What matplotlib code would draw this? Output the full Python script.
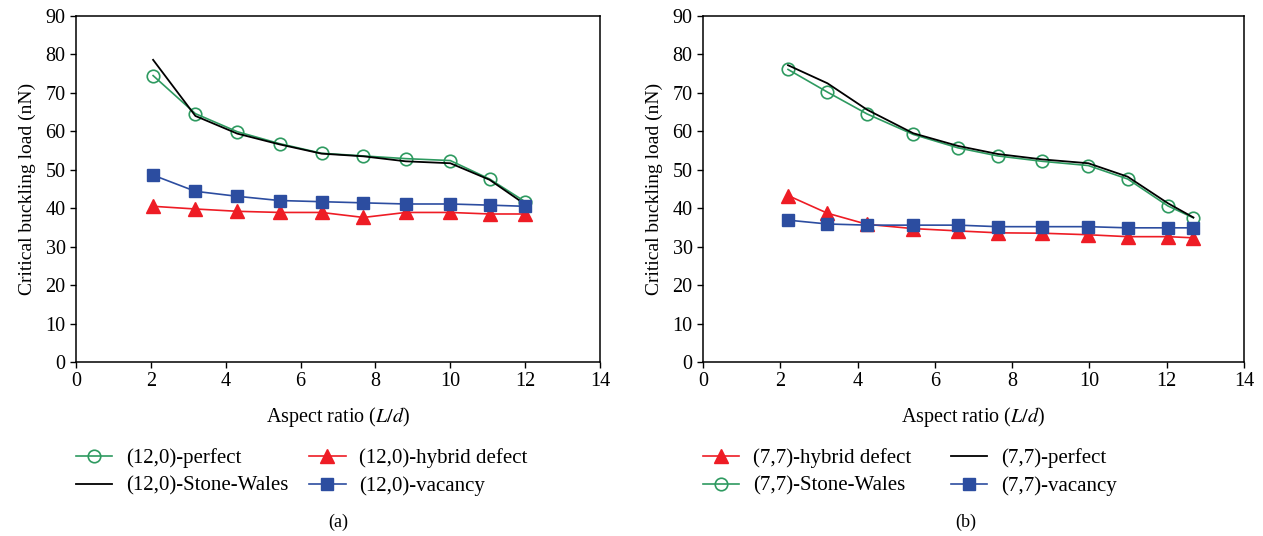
import matplotlib
matplotlib.use('Agg')
import matplotlib.pyplot as plt

plt.rcParams['font.family'] = ['Liberation Serif', 'DejaVu Serif']
plt.rcParams['mathtext.fontset'] = 'stix'

# (12,0) tube - left panel
x_a = [2.06, 3.19, 4.31, 5.44, 6.56, 7.68, 8.81, 10.0, 11.05, 12.0]
a_perfect = [74.5, 64.6, 59.9, 56.8, 54.3, 53.6, 52.9, 52.4, 47.6, 41.7]
a_stone_wales = [78.6, 64.0, 59.4, 56.6, 54.2, 53.5, 52.2, 51.7, 47.4, 41.0]
a_hybrid = [40.5, 39.8, 39.2, 38.9, 38.9, 37.6, 38.9, 38.9, 38.5, 38.5]
a_vacancy = [48.6, 44.4, 43.1, 42.0, 41.7, 41.4, 41.1, 41.1, 40.8, 40.5]

# (7,7) tube - right panel
x_b = [2.20, 3.22, 4.25, 5.44, 6.60, 7.63, 8.78, 9.97, 10.99, 12.03, 12.69]
b_perfect = [77.2, 72.5, 65.6, 59.5, 56.2, 54.1, 52.7, 51.7, 48.2, 41.3, 37.6]
b_stone_wales = [76.1, 70.2, 64.5, 59.2, 55.7, 53.6, 52.2, 51.1, 47.6, 40.6, 37.5]
b_hybrid = [43.3, 38.7, 35.8, 34.7, 34.1, 33.6, 33.5, 33.1, 32.6, 32.6, 32.3]
b_vacancy = [36.9, 35.9, 35.6, 35.6, 35.6, 35.2, 35.2, 35.2, 34.9, 34.9, 34.9]

green = '#2e9a60'
red = '#ee1c25'
blue = '#2c4da0'

W, H = 1263, 536
fig = plt.figure(figsize=(W / 100, H / 100), dpi=100)

ax1 = fig.add_axes([76 / W, 1 - 362 / H, 524 / W, 346 / H])
ax2 = fig.add_axes([703 / W, 1 - 362 / H, 541 / W, 346 / H])

circle = dict(marker='o', markersize=9, markerfacecolor='none', markeredgewidth=1.2, color=green, linewidth=1.2)
black = dict(color='black', linewidth=1.3)
tri = dict(marker='^', markersize=10, color=red, linewidth=1.2)
square = dict(marker='s', markersize=9, color=blue, linewidth=1.2)

h1 = ax1.plot(x_a, a_perfect, label='(12,0)-perfect', **circle)[0]
h2 = ax1.plot(x_a, a_stone_wales, label='(12,0)-Stone-Wales', **black)[0]
h3 = ax1.plot(x_a, a_hybrid, label='(12,0)-hybrid defect', **tri)[0]
h4 = ax1.plot(x_a, a_vacancy, label='(12,0)-vacancy', **square)[0]

g1 = ax2.plot(x_b, b_hybrid, label='(7,7)-hybrid defect', **tri)[0]
g2 = ax2.plot(x_b, b_stone_wales, label='(7,7)-Stone-Wales', **circle)[0]
g3 = ax2.plot(x_b, b_perfect, label='(7,7)-perfect', **black)[0]
g4 = ax2.plot(x_b, b_vacancy, label='(7,7)-vacancy', **square)[0]

for ax in (ax1, ax2):
    ax.set_xlim(0, 14)
    ax.set_ylim(0, 90)
    ax.set_xticks(range(0, 15, 2))
    ax.set_yticks(range(0, 91, 10))
    ax.tick_params(direction='out', length=4, width=1, labelsize=14.5, colors='black')
    for s in ax.spines.values():
        s.set_linewidth(1.1)
    ax.set_xlabel(r'Aspect ratio ($L/d$)', fontsize=14.5, labelpad=10)
    ax.set_ylabel('Critical buckling load (nN)', fontsize=14, labelpad=7)

leg_kw = dict(loc='upper left', ncol=2, frameon=False, fontsize=15, borderpad=0,
              borderaxespad=0, handlelength=1.75, handletextpad=0.65,
              labelspacing=0.4, bbox_transform=fig.transFigure)
fig.legend(handles=[h1, h2, h3, h4], bbox_to_anchor=(76 / W, 1 - 448 / H),
           columnspacing=1.0, **leg_kw)
fig.legend(handles=[g1, g2, g3, g4], bbox_to_anchor=(703 / W, 1 - 448 / H),
           columnspacing=1.9, **leg_kw)

fig.text(338 / W, 1 - 522 / H, '(a)', ha='center', va='center', fontsize=13)
fig.text(966 / W, 1 - 522 / H, '(b)', ha='center', va='center', fontsize=13)

fig.savefig('out.png', dpi=100)
